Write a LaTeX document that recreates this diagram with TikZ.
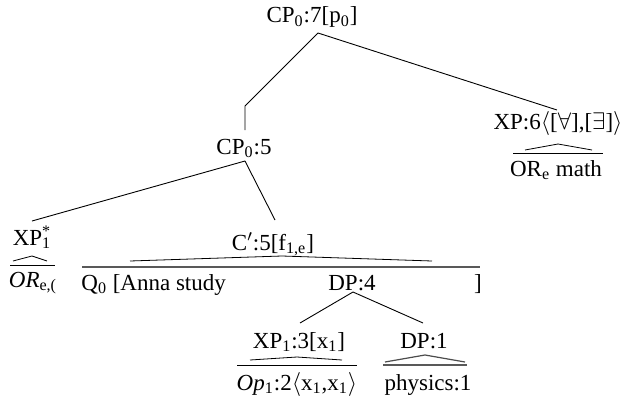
\documentclass[tikz,border=0pt]{standalone}
\usepackage{fontspec}
\setmainfont{Liberation Serif}
\usepackage{tikz}
\usepackage{amsmath}

\begin{document}
\begin{tikzpicture}[x=0.5pt, y=-0.5pt,
  lab/.style={anchor=base, inner sep=0pt, font=\fontsize{11.5}{13}\selectfont},
  edge/.style={draw=black, line width=0.45pt},
  roof/.style={draw=black, line width=0.4pt},
  bar/.style={draw=black, line width=0.5pt},
  thickbar/.style={draw=gray!70!black, line width=1pt}
]
\useasboundingbox (0,0) rectangle (626,396);

\node[lab] (cp7)   at (312,23)  {CP\textsubscript{0}:7[p\textsubscript{0}]};
\node[lab] (cp5)   at (244,154) {CP\textsubscript{0}:5};
\node[lab] (xp6)   at (558,129) {XP:6$\langle$[$\forall$],[$\exists$]$\rangle$};
\node[lab] (xp6y)  at (556,176) {OR\textsubscript{e} math};
\node[lab] (xp1s)  at (32,245)  {XP\rlap{\textsuperscript{*}}\textsubscript{1}};
\node[lab] (xp1sy) at (33,287)  {\textit{OR}\textsubscript{e,(}};
\node[lab] (cbar)  at (273,250) {C$'$:5[f\textsubscript{1,e}]};
\node[lab, anchor=base west] (q0) at (81,290) {Q\textsubscript{0} [Anna study};
\node[lab] (dp4)   at (352,290) {DP:4};
\node[lab] (rbr)   at (478,290) {]};
\node[lab] (xp13)  at (299,348) {XP\textsubscript{1}:3[x\textsubscript{1}]};
\node[lab] (dp1)   at (424,348) {DP:1};
\node[lab] (op)    at (297,390) {\textit{Op}\textsubscript{1}:2$\langle$x\textsubscript{1},x\textsubscript{1}$\rangle$};
\node[lab] (phys)  at (428,390) {physics:1};

\coordinate (bend) at (245,106);

% branches
\draw[edge] ([xshift=3pt,yshift=-5pt]cp7.base) -- (bend) -- ([xshift=0.5pt,yshift=12pt]cp5.base);
\draw[edge] ([xshift=3pt,yshift=-5pt]cp7.base) -- ([xshift=-0.5pt,yshift=9.5pt]xp6.base);
\draw[edge] ([xshift=0.5pt,yshift=-3.5pt]cp5.base) -- ([yshift=12pt]xp1s.base);
\draw[edge] ([xshift=0.5pt,yshift=-3.5pt]cp5.base) -- ([xshift=1pt,yshift=15pt]cbar.base);
\draw[edge] ([xshift=0.5pt,yshift=-1pt]dp4.base) -- ([xshift=0.5pt,yshift=12.5pt]xp13.base);
\draw[edge] ([xshift=0.5pt,yshift=-1pt]dp4.base) -- ([xshift=-0.5pt,yshift=12.5pt]dp1.base);

% roofs
\draw[roof] (525,150) -- (558,144) -- (592,150);
\draw[bar] (513,153) -- (603,153);
\draw[roof] (13,261) -- (32,256) -- (47,261);
\draw[bar] (10,265) -- (55,265);
\draw[roof] (130,261) -- (282,256) -- (432,261);
\draw[thickbar] (82,267) -- (480,267);
\draw[roof] (250,360) -- (297,357) -- (342,360);
\draw[bar] (237,365) -- (357,365);
\draw[roof, draw=gray!60!black, line width=0.6pt] (385,362) -- (425,355) -- (465,362);
\draw[thickbar] (383,365) -- (467,365);

\end{tikzpicture}
\end{document}
